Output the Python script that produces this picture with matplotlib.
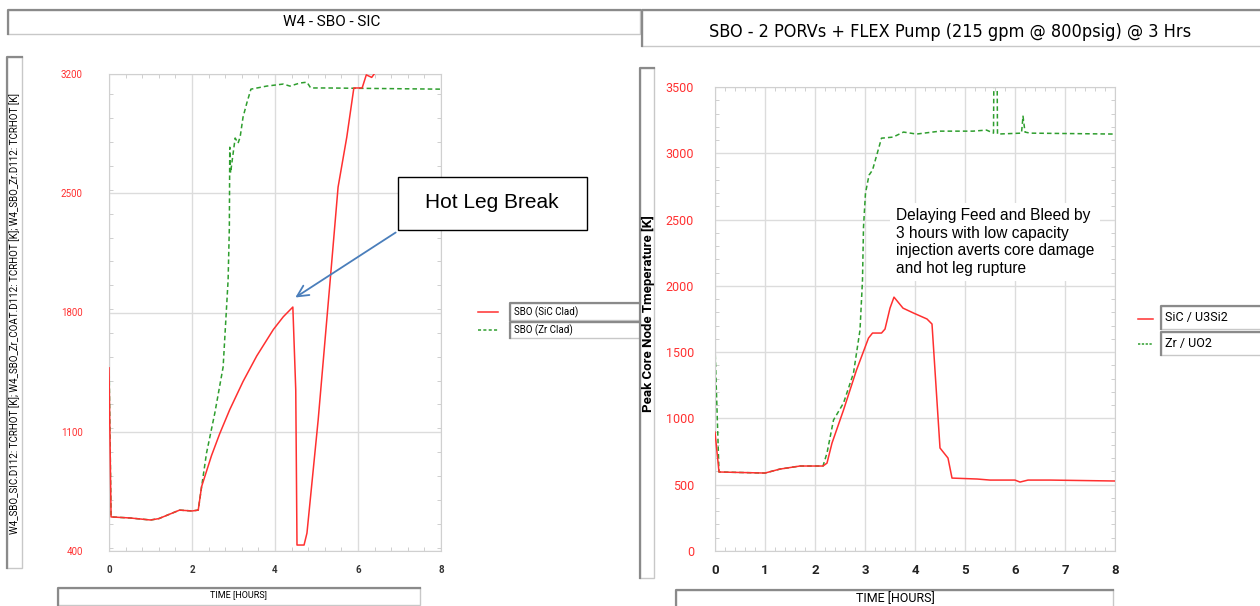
import numpy as np
import matplotlib
matplotlib.use("Agg")
import matplotlib.pyplot as plt
from matplotlib.patches import Rectangle
from matplotlib.lines import Line2D
from matplotlib.ticker import MultipleLocator

### Data. ###
# left: W4 - SBO - SIC
l_sic_t = [0, 0.05, 0.5, 1.0, 1.2, 1.7, 2.0, 2.15, 2.23, 2.47, 2.67, 2.91, 3.23, 3.56, 3.96, 4.2, 4.43,
           4.5, 4.53, 4.7, 4.77, 5.04, 5.33, 5.52, 5.73, 5.9, 6.1, 6.2, 6.33, 6.39]
l_sic_k = [1475, 600, 594, 582, 590, 640, 635, 640, 777, 960, 1090, 1230, 1395, 1545, 1700, 1775, 1832,
           1345, 435, 435, 505, 1169, 1990, 2536, 2830, 3118, 3118, 3195, 3180, 3200]
l_zr_t = [0, 0.05, 0.5, 1.0, 1.2, 1.7, 2.0, 2.15, 2.35, 2.55, 2.75, 2.87, 2.9, 2.91, 2.93, 2.96, 3.04,
          3.11, 3.16, 3.23, 3.32, 3.42, 3.8, 4.2, 4.36, 4.6, 4.77, 4.86, 5.25, 8.0]
l_zr_k = [1533, 600, 594, 582, 590, 640, 635, 640, 975, 1210, 1480, 1990, 2300, 2770, 2620, 2677, 2824,
          2794, 2830, 2947, 3029, 3111, 3129, 3141, 3129, 3147, 3152, 3118, 3118, 3111]

# right: SBO - 2 PORVs + FLEX Pump
r_sic_t = [0, 0.08, 1.0, 1.3, 1.7, 2.16, 2.24, 2.34, 2.57, 2.83, 3.07, 3.15, 3.33, 3.4, 3.5, 3.58, 3.76,
           3.97, 4.24, 4.34, 4.5, 4.66, 4.74, 5.24, 5.5, 6.0, 6.1, 6.26, 6.7, 8.0]
r_sic_k = [897, 596, 588, 618, 641, 641, 663, 814, 1063, 1365, 1606, 1644, 1644, 1674, 1832, 1915, 1832,
           1795, 1750, 1712, 777, 701, 550, 543, 535, 535, 520, 535, 535, 528]
r_zr_t = [0, 0.08, 1.0, 1.3, 1.7, 2.16, 2.24, 2.37, 2.57, 2.77, 2.9, 2.95, 2.97, 3.01, 3.08, 3.15, 3.33,
          3.56, 3.77, 4.03, 4.5, 5.16, 5.43, 5.57, 5.58, 5.64, 5.65, 6.13, 6.16, 6.2, 6.3, 8.0]
r_zr_k = [1538, 596, 588, 618, 641, 641, 739, 988, 1116, 1342, 1667, 2044, 2443, 2700, 2835, 2873, 3114,
          3122, 3160, 3145, 3167, 3167, 3175, 3152, 3700, 3700, 3145, 3152, 3280, 3160, 3152, 3145]

left_yticks = [400, 1100, 1800, 2500, 3200]
right_yticks = [0, 500, 1000, 1500, 2000, 2500, 3000, 3500]

W, H = 1260, 606
RED = '#ff3030'
GREEN = '#2e9e2e'
FONT = ['Roboto', 'DejaVu Sans']
ARIAL = ['Liberation Sans', 'DejaVu Sans']

fig = plt.figure(figsize=(W / 100, H / 100), dpi=100)
fig.patch.set_facecolor('white')


def fx(x):
    return x / W


def fy(y):
    return 1 - y / H


def box(x0, y0, x1, y1, dark=True, edge='#c8c8c8'):
    # screenshot style box, darker top/left edge
    fig.add_artist(Rectangle((fx(x0), fy(y1)), fx(x1 - x0), (y1 - y0) / H, transform=fig.transFigure,
                             facecolor='white', edgecolor=edge, lw=1))
    if dark:
        fig.add_artist(Line2D([fx(x0), fx(x0), fx(x1)], [fy(y1), fy(y0), fy(y0)], transform=fig.transFigure,
                              color='#8a8a8a', lw=1.6))


def style_axes(ax, xminor, yminor):
    for s in ax.spines.values():
        s.set_color('#d0d0d0')
    ax.grid(True, which='major', color='#dcdcdc', lw=1)
    ax.xaxis.set_minor_locator(MultipleLocator(xminor))
    ax.yaxis.set_minor_locator(MultipleLocator(yminor))
    ax.tick_params(which='both', direction='in', top=True, right=True, color='#c8c8c8')
    ax.tick_params(which='major', length=0)
    ax.tick_params(which='minor', length=3)


### Left panel ###
axl = fig.add_axes([fx(109), fy(551), fx(441 - 109), (551 - 74) / H])
axl.plot(l_sic_t, l_sic_k, color=RED, lw=1.1, zorder=3)
axl.plot(l_zr_t, l_zr_k, color=GREEN, lw=1.1, ls=(0, (3, 2)), zorder=2)
axl.set_xlim(0, 8)
axl.set_ylim(400, 3200)
axl.set_xticks([0, 2, 4, 6, 8])
axl.set_yticks(left_yticks)
style_axes(axl, 0.4, 140)
axl.tick_params(axis='y', which='major', pad=19, labelsize=7, labelcolor=RED)
axl.tick_params(axis='x', which='major', pad=10, labelsize=7, labelcolor='#333333')
for lab in axl.get_xticklabels():
    lab.set_fontweight('bold')
for lab in axl.get_xticklabels() + axl.get_yticklabels():
    lab.set_family(FONT)

box(8, 10, 640, 34)
fig.text(fx(332), fy(22), 'W4 - SBO - SIC', ha='center', va='center', fontsize=11, family=FONT)
box(7, 57, 22, 568)
fig.text(fx(15), fy(314), 'W4_SBO_SIC.D112: TCRHOT [K]; W4_SBO_Zr_COAT.D112: TCRHOT [K]; W4_SBO_Zr.D112: TCRHOT [K]',
         rotation=90, ha='center', va='center', fontsize=7, family=FONT)
box(58, 588, 420, 605)
fig.text(fx(239), fy(595), 'TIME [HOURS]', ha='center', va='center', fontsize=6.5, family=FONT)

# legend
box(510, 303, 640, 320)
box(510, 322, 640, 338)
fig.add_artist(Line2D([fx(478), fx(498)], [fy(312), fy(312)], transform=fig.transFigure, color=RED, lw=1.1))
fig.add_artist(Line2D([fx(478), fx(498)], [fy(330), fy(330)], transform=fig.transFigure, color=GREEN, lw=1.1,
                      ls=(0, (2, 1.5))))
fig.text(fx(514), fy(312), 'SBO (SiC Clad)', ha='left', va='center', fontsize=7, family=FONT)
fig.text(fx(514), fy(330), 'SBO (Zr Clad)', ha='left', va='center', fontsize=7, family=FONT)

# hot leg break call-out
box(398, 177, 587, 230, dark=False, edge='black')
fig.text(fx(492), fy(203), 'Hot Leg Break', ha='center', va='center', fontsize=15, family=ARIAL)
axl.annotate('', xy=(fx(293), fy(299)), xycoords='figure fraction',
             xytext=(fx(398), fy(231)), textcoords='figure fraction',
             arrowprops=dict(arrowstyle='->,head_length=0.8,head_width=0.4', color='#4a7ebb', lw=1.3))

### Right panel ###
axr = fig.add_axes([fx(715), fy(551), fx(400), (551 - 87) / H])
axr.plot(r_sic_t, r_sic_k, color=RED, lw=1.1, zorder=3)
axr.plot(r_zr_t, r_zr_k, color=GREEN, lw=1.1, ls=(0, (3, 2)), zorder=2)
axr.set_xlim(0, 8)
axr.set_ylim(0, 3500)
axr.set_xticks(range(9))
axr.set_yticks(right_yticks)
style_axes(axr, 0.2, 100)
axr.tick_params(axis='y', which='major', pad=15, labelsize=9, labelcolor=RED)
axr.tick_params(axis='x', which='major', pad=9, labelsize=9.5, labelcolor='#222222')
for lab in axr.get_xticklabels():
    lab.set_fontweight('bold')
for lab in axr.get_xticklabels() + axr.get_yticklabels():
    lab.set_family(FONT)

axr.text(0.452, (551 - 242) / 464, 'Delaying Feed and Bleed by\n3 hours with low capacity\ninjection averts core damage\nand hot leg rupture',
         transform=axr.transAxes, ha='left', va='center', fontsize=11.2, linespacing=1.2,
         family=ARIAL, zorder=5,
         bbox=dict(boxstyle='square,pad=0.35', facecolor='white', edgecolor='none'))

box(642, 10, 1262, 46)
fig.text(fx(950), fy(32), 'SBO - 2 PORVs + FLEX Pump (215 gpm @ 800psig) @ 3 Hrs', ha='center', va='center',
         fontsize=13, family='DejaVu Sans', fontstretch='condensed')
box(640, 68, 654, 578)
fig.text(fx(648), fy(314), 'Peak Core Node Tmeperature [K]', rotation=90, ha='center', va='center',
         fontsize=9.5, fontweight='bold', family=FONT)
box(676, 590, 1113, 608)
fig.text(fx(895), fy(599), 'TIME [HOURS]', ha='center', va='center', fontsize=9, family=FONT)

box(1161, 306, 1262, 329)
box(1161, 332, 1262, 355)
fig.add_artist(Line2D([fx(1138), fx(1153)], [fy(319), fy(319)], transform=fig.transFigure, color=RED, lw=1.1))
fig.add_artist(Line2D([fx(1138), fx(1153)], [fy(344), fy(344)], transform=fig.transFigure, color=GREEN, lw=1.1,
                      ls=(0, (1.5, 1))))
fig.text(fx(1165), fy(318), 'SiC / U3Si2', ha='left', va='center', fontsize=9, family=FONT)
fig.text(fx(1165), fy(344), 'Zr / UO2', ha='left', va='center', fontsize=9, family=FONT)

fig.savefig('out.png', dpi=100)
